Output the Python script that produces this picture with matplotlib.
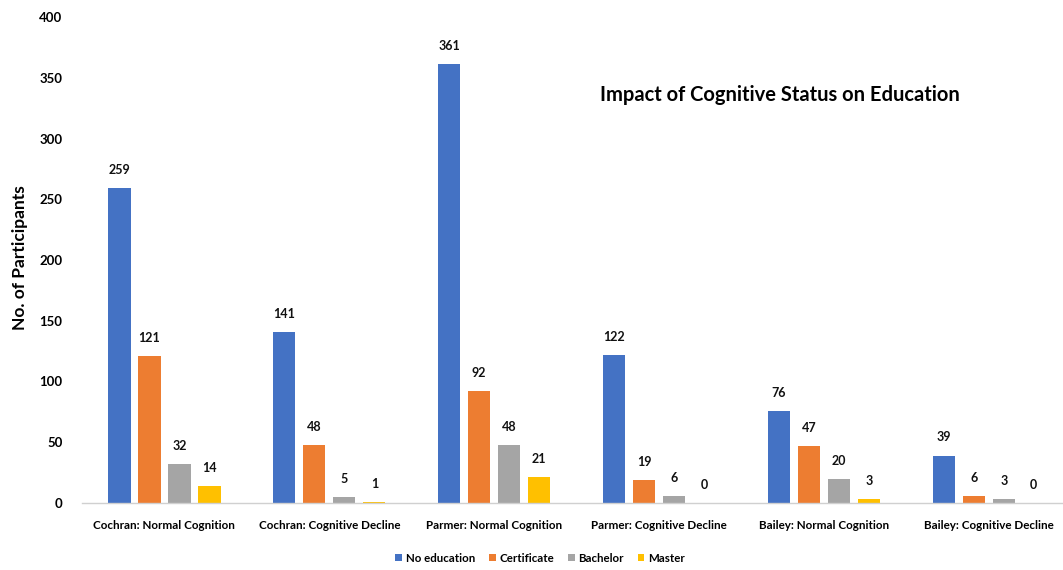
import matplotlib
matplotlib.use("Agg")
import matplotlib.pyplot as plt
import numpy as np

categories = [
    "Cochran: Normal Cognition",
    "Cochran: Cognitive Decline",
    "Parmer: Normal Cognition",
    "Parmer: Cognitive Decline",
    "Bailey: Normal Cognition",
    "Bailey: Cognitive Decline",
]
series_names = ["No education", "Certificate", "Bachelor", "Master"]
no_education = [259, 141, 361, 122, 76, 39]
certificate = [121, 48, 92, 19, 47, 6]
bachelor = [32, 5, 48, 6, 20, 3]
master = [14, 1, 21, 0, 3, 0]
colors = ["#4472C4", "#ED7D31", "#A5A5A5", "#FFC000"]

plt.rcParams["font.family"] = ["Lato", "DejaVu Sans"]

fig = plt.figure(figsize=(10.63, 5.70), dpi=100)
ax = fig.add_axes([82 / 1063, 1 - 503 / 570, (1063 - 82) / 1063, (503 - 17) / 570])

x = np.arange(len(categories))
step = 0.182
width = 0.135
all_series = [no_education, certificate, bachelor, master]
for i, (vals, name, col) in enumerate(zip(all_series, series_names, colors)):
    pos = x + (i - 1.5) * step
    bars = ax.bar(pos, vals, width=width, color=col, label=name, zorder=2)
    for b, v in zip(bars, vals):
        ax.text(b.get_x() + b.get_width() / 2, v + 10, str(v), ha="center", va="bottom",
                fontsize=9, fontweight="bold", color="#111111")

ax.set_xlim(-0.5, 5.45)
ax.set_ylim(0, 400)
ax.set_yticks(np.arange(0, 401, 50))
ax.set_xticks(x)
ax.set_xticklabels(categories, fontsize=8.4, fontweight="bold")
ax.tick_params(axis="x", length=0, pad=12)
ax.tick_params(axis="y", length=0, pad=14, labelsize=9.5)
for lab in ax.get_yticklabels():
    lab.set_fontweight("bold")
for s in ["top", "right", "left"]:
    ax.spines[s].set_visible(False)
ax.spines["bottom"].set_color("#D0D0D0")
ax.spines["bottom"].set_linewidth(1.0)

fig.text(20 / 1063, 1 - 258 / 570, "No. of Participants", rotation=90, ha="center", va="center",
         fontsize=12.5, fontweight="bold")
fig.text(780 / 1063, 1 - 95 / 570, "Impact of Cognitive Status on Education", ha="center", va="center",
         fontsize=14.5, fontweight="bold")

fig.legend(loc="center", bbox_to_anchor=(540 / 1063, 1 - 558 / 570), ncol=4, frameon=False,
           handlelength=0.6, handleheight=0.6, handletextpad=0.3, columnspacing=1.2,
           prop={"weight": "bold", "size": 8.3})

fig.savefig("out.png", dpi=100)
